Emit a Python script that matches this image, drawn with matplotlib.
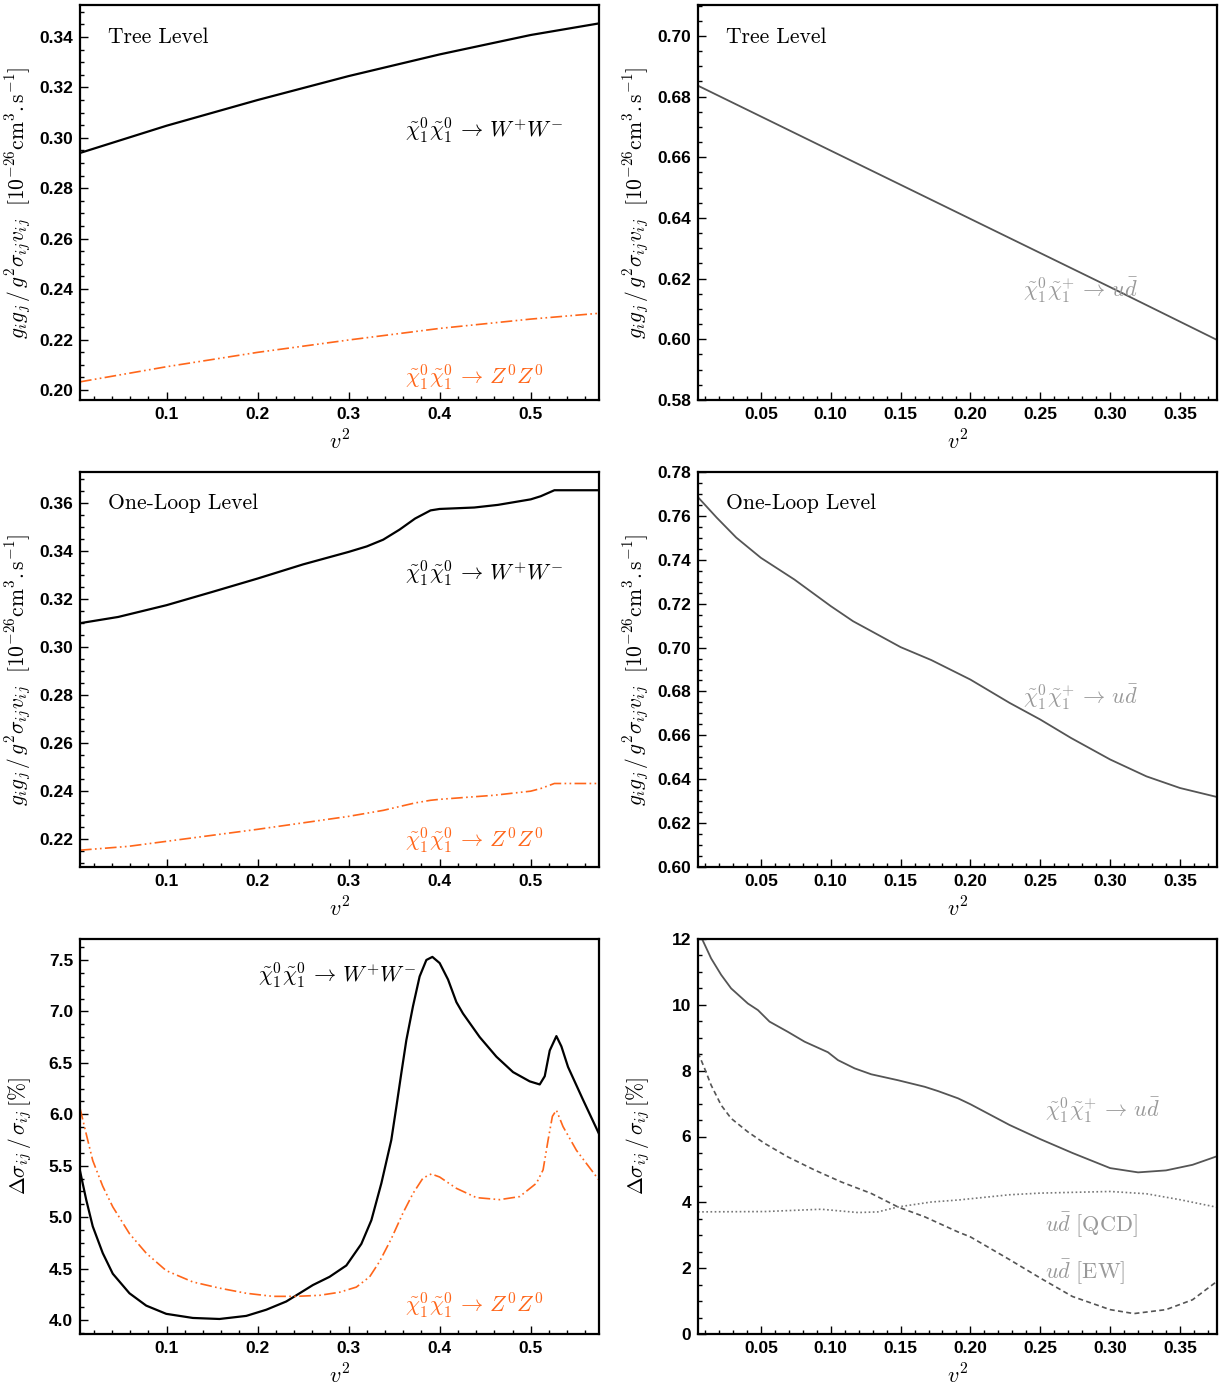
import numpy as np
import matplotlib
matplotlib.use("Agg")
import matplotlib.pyplot as plt
from matplotlib.ticker import MultipleLocator, FormatStrFormatter

plt.rcParams['mathtext.fontset'] = 'cm'
plt.rcParams['font.family'] = 'Liberation Sans'

# ---- data ----
# tree level, neutralino pair
tree_nn_x = [0.005, 0.1, 0.2, 0.3, 0.4, 0.5, 0.575]
tree_ww = [0.2940, 0.3048, 0.3150, 0.3245, 0.3331, 0.3408, 0.3454]
tree_zz = [0.2032, 0.2092, 0.2149, 0.2198, 0.2244, 0.2281, 0.2304]

# tree level, neutralino-chargino
tree_nc_x = [0.005, 0.1, 0.2, 0.3, 0.3765]
tree_ud = [0.6836, 0.6622, 0.6397, 0.6172, 0.5998]

# one loop, neutralino pair
loop_ww_x = [0.005, 0.047, 0.1, 0.15, 0.2, 0.25, 0.3, 0.32, 0.338, 0.356,
             0.373, 0.39, 0.4, 0.438, 0.464, 0.5, 0.511, 0.526, 0.533, 0.575]
loop_ww = [0.3099, 0.3125, 0.3174, 0.3229, 0.3285, 0.3344, 0.3396, 0.3419,
           0.3447, 0.3489, 0.3535, 0.3569, 0.3575, 0.3581, 0.3592, 0.3615,
           0.3628, 0.3653, 0.3653, 0.3653]
loop_zz_x = [0.005, 0.058, 0.1, 0.15, 0.2, 0.25, 0.3, 0.338, 0.373, 0.39,
             0.4, 0.46, 0.5, 0.511, 0.526, 0.575]
loop_zz = [0.2153, 0.2169, 0.2190, 0.2215, 0.2240, 0.2267, 0.2294, 0.2319,
           0.2350, 0.2361, 0.2365, 0.2382, 0.2399, 0.2410, 0.2431, 0.2431]

# one loop, neutralino-chargino
loop_ud_x = [0.0053, 0.0184, 0.0324, 0.05, 0.074, 0.10, 0.116, 0.127, 0.15,
             0.172, 0.20, 0.228, 0.25, 0.272, 0.30, 0.326, 0.35, 0.3765]
loop_ud = [0.7683, 0.7592, 0.7501, 0.7409, 0.7310, 0.7189, 0.7120, 0.7082,
           0.7002, 0.6943, 0.6854, 0.6748, 0.6672, 0.6588, 0.6490, 0.6413,
           0.6360, 0.6319]

# relative correction, neutralino pair [%]
dww_x = [0.005, 0.0118, 0.019, 0.030, 0.041, 0.0593, 0.0777, 0.0997, 0.1289,
         0.1582, 0.1876, 0.2096, 0.2315, 0.2462, 0.2608, 0.2791, 0.2975,
         0.3140, 0.3250, 0.3360, 0.3469, 0.3524, 0.3579, 0.3634, 0.3707,
         0.378, 0.3854, 0.392, 0.400, 0.4092, 0.4184, 0.4256, 0.444, 0.4623,
         0.4806, 0.4989, 0.5099, 0.5154, 0.5209, 0.5282, 0.5337, 0.541,
         0.5575, 0.575]
dww = [5.45, 5.17, 4.91, 4.65, 4.45, 4.26, 4.14, 4.06, 4.02,
       4.01, 4.04, 4.10, 4.18, 4.26, 4.34, 4.42, 4.53,
       4.74, 4.97, 5.33, 5.75, 6.07, 6.40, 6.72, 7.05,
       7.34, 7.50, 7.53, 7.47, 7.31, 7.09, 6.98, 6.75, 6.56,
       6.41, 6.32, 6.29, 6.37, 6.62, 6.76, 6.66, 6.46,
       6.14, 5.81]
dzz_x = [0.005, 0.0118, 0.019, 0.030, 0.041, 0.0593, 0.0777, 0.0997, 0.1289,
         0.1582, 0.1876, 0.2168, 0.2425, 0.2681, 0.2901, 0.3085, 0.3231,
         0.3341, 0.3469, 0.3597, 0.3707, 0.3817, 0.3909, 0.40, 0.4184,
         0.4403, 0.4659, 0.4879, 0.5063, 0.5136, 0.5191, 0.5238, 0.5282,
         0.5355, 0.5502, 0.575]
dzz = [6.06, 5.81, 5.55, 5.30, 5.10, 4.84, 4.65, 4.48, 4.37,
       4.31, 4.26, 4.23, 4.23, 4.24, 4.27, 4.32, 4.42,
       4.57, 4.79, 5.04, 5.23, 5.38, 5.42, 5.39, 5.28,
       5.19, 5.17, 5.20, 5.33, 5.46, 5.75, 5.98, 6.04,
       5.88, 5.65, 5.36]

# relative correction, neutralino-chargino [%]
dud_x = [0.005, 0.0077, 0.0144, 0.0216, 0.0287, 0.0407, 0.0479, 0.0562,
         0.0693, 0.0813, 0.098, 0.1052, 0.1171, 0.129, 0.1481, 0.1673, 0.1768,
         0.1911, 0.20, 0.228, 0.25, 0.273, 0.30, 0.32, 0.34, 0.359, 0.3765]
dud = [12.1, 12.02, 11.41, 10.91, 10.50, 10.04, 9.84, 9.49,
       9.18, 8.88, 8.56, 8.32, 8.07, 7.89, 7.71, 7.51, 7.38,
       7.16, 6.98, 6.35, 5.92, 5.50, 5.04, 4.91, 4.97, 5.14, 5.40]
dew_x = [0.005, 0.0097, 0.0144, 0.0216, 0.0287, 0.0407, 0.0527, 0.0693,
         0.0885, 0.1075, 0.129, 0.1481, 0.1673, 0.1911, 0.20, 0.228, 0.25,
         0.273, 0.30, 0.317, 0.34, 0.359, 0.3765]
dew = [8.55, 8.07, 7.56, 6.95, 6.55, 6.14, 5.79, 5.38,
       4.98, 4.62, 4.27, 3.86, 3.56, 3.10, 2.95, 2.26, 1.70,
       1.14, 0.74, 0.62, 0.74, 1.04, 1.60]
dqcd_x = [0.005, 0.0527, 0.0932, 0.1195, 0.1338, 0.1481, 0.172, 0.1911,
          0.228, 0.25, 0.30, 0.326, 0.35, 0.3765]
dqcd = [3.71, 3.72, 3.79, 3.69, 3.71, 3.86, 4.01, 4.07,
        4.23, 4.28, 4.33, 4.26, 4.08, 3.85]

orange = '#ff661a'
gray = '#555555'
lgray = '#999999'
ddot = (0, (7, 2, 1, 2, 1, 2))

ylab_xs = r'$g_{i}g_{j}\,/\,g^{2}\sigma_{ij}v_{ij}\ \ [10^{-26}\mathrm{cm}^{3}.\mathrm{s}^{-1}]$'
ylab_d = r'$\Delta\sigma_{ij}\,/\,\sigma_{ij}\,[\%]$'
lab_ww = r'$\tilde{\chi}^{0}_{1}\tilde{\chi}^{0}_{1}\,\rightarrow\,W^{+}W^{-}$'
lab_zz = r'$\tilde{\chi}^{0}_{1}\tilde{\chi}^{0}_{1}\,\rightarrow\,Z^{0}Z^{0}$'
lab_ud = r'$\tilde{\chi}^{0}_{1}\tilde{\chi}^{+}_{1}\,\rightarrow\,u\bar{d}$'

fig = plt.figure(figsize=(12.32, 13.89), dpi=100)
W = 519 / 1232.
H = 395 / 1389.
lefts = [80 / 1232., 698 / 1232.]
bottoms = [1 - 400 / 1389., 1 - 867 / 1389., 1 - 1334 / 1389.]


def style(ax, xlim, ylim, xmaj, xmin, ymaj, ymin, yfmt, xfmt, ylabel):
    ax.set_xlim(*xlim)
    ax.set_ylim(*ylim)
    ax.xaxis.set_major_locator(MultipleLocator(xmaj))
    ax.xaxis.set_minor_locator(MultipleLocator(xmin))
    ax.yaxis.set_major_locator(MultipleLocator(ymaj))
    ax.yaxis.set_minor_locator(MultipleLocator(ymin))
    ax.yaxis.set_major_formatter(FormatStrFormatter(yfmt))
    ax.xaxis.set_major_formatter(FormatStrFormatter(xfmt))
    ax.tick_params(which='both', direction='in', top=False, right=False,
                   width=1.0)
    ax.tick_params(which='major', length=6, labelsize=12.5, pad=5)
    ax.tick_params(which='minor', length=3)
    for lab in ax.get_xticklabels() + ax.get_yticklabels():
        lab.set_fontweight('bold')
    for s in ax.spines.values():
        s.set_linewidth(1.6)
    ax.set_xlabel(r'$v^{2}$', fontsize=16)
    ax.xaxis.set_label_coords(0.5, -0.078)
    ax.set_ylabel(ylabel, fontsize=15.5)
    ax.yaxis.set_label_coords(-0.088, 0.5)


tfs = 16
lfs = 15.5

# top-left
ax = fig.add_axes([lefts[0], bottoms[0], W, H])
ax.plot(tree_nn_x, tree_ww, color='black', lw=1.6)
ax.plot(tree_nn_x, tree_zz, color=orange, lw=1.2, ls=ddot)
style(ax, (0.005, 0.575), (0.196, 0.3527), 0.1, 0.02, 0.02, 0.005, '%.2f', '%.1f', ylab_xs)
ax.text(0.054, 0.919, 'Tree Level', family='cmr10', transform=ax.transAxes, fontsize=lfs, va='center')
ax.text(0.626, 0.684, lab_ww, transform=ax.transAxes, fontsize=tfs, va='center')
ax.text(0.626, 0.058, lab_zz, transform=ax.transAxes, fontsize=tfs, va='center', color=orange)

# top-right
ax = fig.add_axes([lefts[1], bottoms[0], W, H])
ax.plot(tree_nc_x, tree_ud, color=gray, lw=1.3)
style(ax, (0.005, 0.3765), (0.58, 0.7102), 0.05, 0.01, 0.02, 0.005, '%.2f', '%.2f', ylab_xs)
ax.text(0.054, 0.919, 'Tree Level', family='cmr10', transform=ax.transAxes, fontsize=lfs, va='center')
ax.text(0.626, 0.278, lab_ud, transform=ax.transAxes, fontsize=tfs, va='center', color=lgray)

# middle-left
ax = fig.add_axes([lefts[0], bottoms[1], W, H])
ax.plot(loop_ww_x, loop_ww, color='black', lw=1.6)
ax.plot(loop_zz_x, loop_zz, color=orange, lw=1.2, ls=ddot)
style(ax, (0.005, 0.575), (0.2083, 0.3729), 0.1, 0.02, 0.02, 0.005, '%.2f', '%.1f', ylab_xs)
ax.text(0.054, 0.922, 'One-Loop Level', family='cmr10', transform=ax.transAxes, fontsize=lfs, va='center')
ax.text(0.626, 0.744, lab_ww, transform=ax.transAxes, fontsize=tfs, va='center')
ax.text(0.626, 0.068, lab_zz, transform=ax.transAxes, fontsize=tfs, va='center', color=orange)

# middle-right
ax = fig.add_axes([lefts[1], bottoms[1], W, H])
ax.plot(loop_ud_x, loop_ud, color=gray, lw=1.3)
style(ax, (0.005, 0.3765), (0.60, 0.78), 0.05, 0.01, 0.02, 0.005, '%.2f', '%.2f', ylab_xs)
ax.text(0.054, 0.922, 'One-Loop Level', family='cmr10', transform=ax.transAxes, fontsize=lfs, va='center')
ax.text(0.626, 0.43, lab_ud, transform=ax.transAxes, fontsize=tfs, va='center', color=lgray)

# bottom-left
ax = fig.add_axes([lefts[0], bottoms[2], W, H])
ax.plot(dww_x, dww, color='black', lw=1.6)
ax.plot(dzz_x, dzz, color=orange, lw=1.2, ls=ddot)
style(ax, (0.005, 0.575), (3.864, 7.704), 0.1, 0.02, 0.5, 0.125, '%.1f', '%.1f', ylab_d)
ax.text(0.343, 0.909, lab_ww, transform=ax.transAxes, fontsize=tfs, va='center')
ax.text(0.626, 0.073, lab_zz, transform=ax.transAxes, fontsize=tfs, va='center', color=orange)

# bottom-right
ax = fig.add_axes([lefts[1], bottoms[2], W, H])
ax.plot(dud_x, dud, color=gray, lw=1.3)
ax.plot(dew_x, dew, color=gray, lw=1.2, ls=(0, (3, 2)))
ax.plot(dqcd_x, dqcd, color='#777777', lw=1.2, ls=(0, (1, 1.5)))
style(ax, (0.005, 0.3765), (0, 12), 0.05, 0.01, 2, 0.5, '%d', '%.2f', ylab_d)
ax.text(0.669, 0.567, lab_ud, transform=ax.transAxes, fontsize=tfs, va='center', color=lgray)
ax.text(0.669, 0.276, r'$u\bar{d}\ \mathrm{[QCD]}$', transform=ax.transAxes, fontsize=tfs, va='center', color=lgray)
ax.text(0.669, 0.157, r'$u\bar{d}\ \mathrm{[EW]}$', transform=ax.transAxes, fontsize=tfs, va='center', color=lgray)

fig.savefig('out.png', dpi=100)
